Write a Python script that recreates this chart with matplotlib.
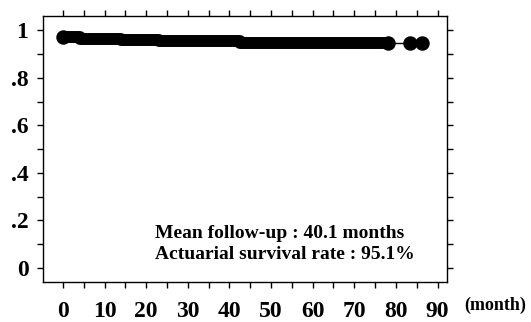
import matplotlib.pyplot as plt
from matplotlib.ticker import MultipleLocator, FixedLocator

# Kaplan-Meier style survival curve
months = [0, 4, 14, 23, 42.5, 78]
survival = [0.973, 0.964, 0.959, 0.954, 0.948, 0.948]
late_months = [78, 83.5, 86.3]
late_survival = [0.948, 0.948, 0.948]

x_ticks = [0, 10, 20, 30, 40, 50, 60, 70, 80, 90]
y_ticks = [0, 0.2, 0.4, 0.6, 0.8, 1.0]
y_labels = ['0', '.2', '.4', '.6', '.8', '1']

note_lines = ['Mean follow-up : 40.1 months', 'Actuarial survival rate : 95.1%']

plt.rcParams['font.family'] = ['Liberation Serif', 'DejaVu Serif']
plt.rcParams['font.weight'] = 'bold'

fig = plt.figure(figsize=(5.31, 3.22), dpi=100)
ax = fig.add_axes([0.081, 0.124, 0.761, 0.826])

# dense censoring marks form a thick band; draw it as a fat step line
ax.step(months, survival, where='post', color='k', lw=8.6,
        solid_capstyle='round', solid_joinstyle='round')
ax.plot(late_months, late_survival, color='k', lw=1, marker='o',
        markersize=9.4)
ax.plot(months[0], survival[0], 'ko', markersize=9.4)

ax.set_xlim(-4.8, 92.3)
ax.set_ylim(-0.059, 1.059)

ax.xaxis.set_major_locator(FixedLocator(x_ticks))
ax.xaxis.set_minor_locator(MultipleLocator(5))
ax.yaxis.set_major_locator(FixedLocator(y_ticks))
ax.yaxis.set_minor_locator(MultipleLocator(0.1))
ax.set_yticklabels(y_labels)

ax.tick_params(which='both', direction='out', top=True, right=True,
               length=4.5, width=1, labelsize=17)
ax.tick_params(axis='x', pad=9)
ax.tick_params(axis='y', pad=6)
for s in ax.spines.values():
    s.set_linewidth(1)

ax.text(22.1, 0.147, note_lines[0], fontsize=14, va='center', ha='left')
ax.text(22.1, 0.058, note_lines[1], fontsize=14, va='center', ha='left')

fig.text(0.932, 0.053, '(month)', fontsize=13, ha='center', va='center')

plt.savefig('out.png', dpi=100)
